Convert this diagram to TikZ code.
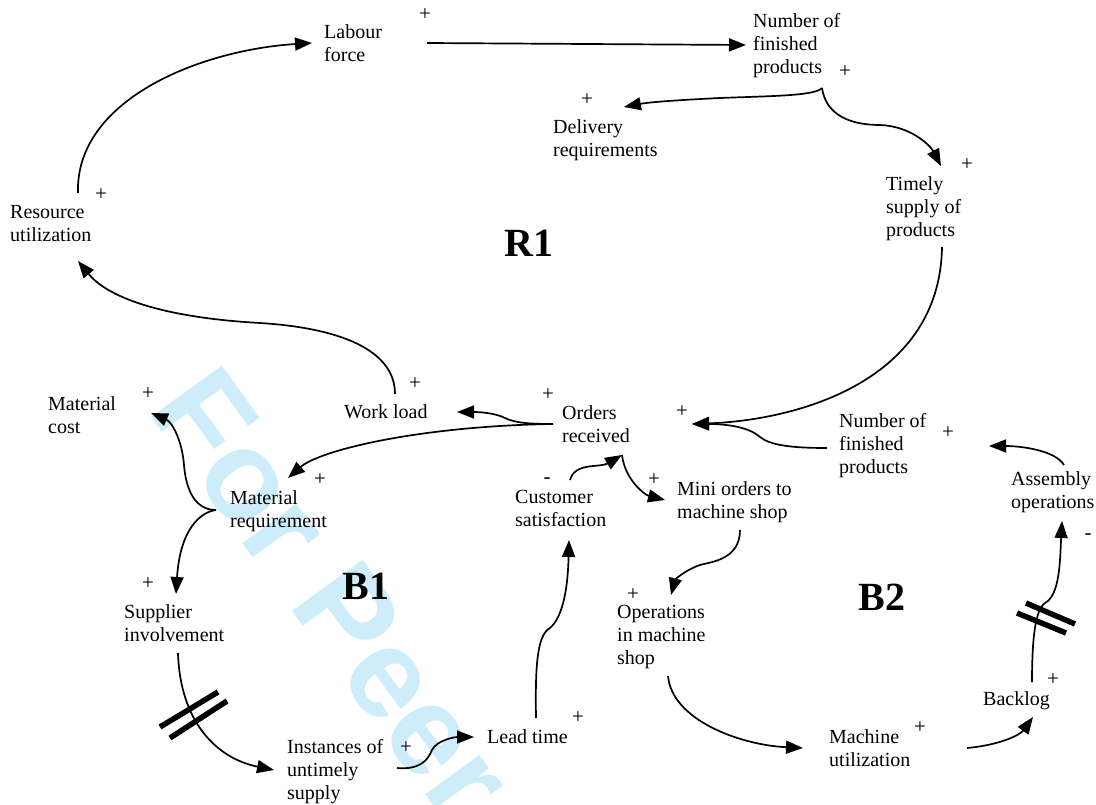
\documentclass[tikz,border=0pt]{standalone}
\usepackage{fontspec}
\setmainfont{Liberation Serif}
\newfontfamily\wmfont{Liberation Sans}
\usetikzlibrary{arrows.meta}
\definecolor{wmblue}{RGB}{206,237,251}
\tikzset{
  var/.style={anchor=north west,inner sep=0pt,align=left,font=\fontsize{20}{23}\selectfont},
  pol/.style={inner sep=0pt,font=\fontsize{21}{21}\selectfont},
  loopname/.style={inner sep=0pt,font=\fontsize{40}{40}\selectfont\bfseries},
  cl/.style={line width=1.7pt,-{Triangle[length=17pt,width=13pt]}},
  delaybar/.style={line width=5.5pt},
}
\begin{document}
\begin{tikzpicture}[x=1pt,y=-1pt]
\useasboundingbox (0,0) rectangle (1096,805);
\node[rotate=-54,text=wmblue,font=\fontsize{127}{127}\selectfont\wmfont\bfseries] (wm) at (333,594) {For Peer};
%
\node[loopname] (r1) at (529,243) {R1};
\node[loopname] (b1) at (366,586) {B1};
\node[loopname] (b2) at (882,597) {B2};
%
\node[var] (labour) at (324,24) {Labour\\force};
\node[var] (numtop) at (753,13) {Number of\\finished\\products};
\node[var] (delivery) at (553,119) {Delivery\\requirements};
\node[var] (timely) at (886,176) {Timely\\supply of\\products};
\node[var] (resource) at (10,205) {Resource\\utilization};
\node[var] (matcost) at (48,396) {Material\\cost};
\node[var] (workload) at (344,404) {Work load};
\node[var] (orders) at (562,405) {Orders\\received};
\node[var] (numbot) at (839,413) {Number of\\finished\\products};
\node[var] (matreq) at (230,490) {Material\\requirement};
\node[var] (customer) at (515,490) {Customer\\satisfaction};
\node[var] (mini) at (677,481) {Mini orders to\\machine shop};
\node[var] (assembly) at (1011,471) {Assembly\\operations};
\node[var] (supplier) at (124,604) {Supplier\\involvement};
\node[var] (operations) at (617,605) {Operations\\in machine\\shop};
\node[var] (backlog) at (983,691) {Backlog};
\node[var] (leadtime) at (487,729) {Lead time};
\node[var] (machine) at (829,729) {Machine\\utilization};
\node[var] (instances) at (287,739) {Instances of\\untimely\\supply};
%
\node[pol] (p-labour) at (425,15) {+};
\node[pol] (p-numtop) at (845,72) {+};
\node[pol] (p-delivery) at (587,100) {+};
\node[pol] (p-timely) at (967,165) {+};
\node[pol] (p-resource) at (101,195) {+};
\node[pol] (p-matcost) at (148,394) {+};
\node[pol] (p-workload) at (415,384) {+};
\node[pol] (p-orders) at (548,395) {+};
\node[pol] (p-ordersin) at (682,412) {+};
\node[pol] (p-numbot) at (948,433) {+};
\node[pol] (p-matreq) at (320,480) {+};
\node[pol] (p-customer) at (547,481) {-};
\node[pol] (p-mini) at (654,480) {+};
\node[pol] (p-assembly) at (1088,537) {-};
\node[pol] (p-supplier) at (148,584) {+};
\node[pol] (p-operations) at (633,595) {+};
\node[pol] (p-backlog) at (1053,680) {+};
\node[pol] (p-leadtime) at (578,718) {+};
\node[pol] (p-machine) at (920,728) {+};
\node[pol] (p-instances) at (406,748) {+};
%
\coordinate (labour-o) at (427,43);
\coordinate (labour-i) at (312,43);
\coordinate (numtop-i) at (746,45);
\coordinate (numtop-o) at (822,88);
\coordinate (delivery-i) at (624,107);
\coordinate (timely-i) at (941,166);
\coordinate (timely-o) at (942,247);
\coordinate (orders-i) at (692,424);
\coordinate (orders-o) at (553,424);
\coordinate (orders-b) at (622,455);
\coordinate (numbot-o) at (827,448);
\coordinate (numbot-i) at (989,446);
\coordinate (assembly-o) at (1064,465);
\coordinate (assembly-i) at (1062,521);
\coordinate (resource-o) at (78,193);
\coordinate (resource-i) at (78,261);
\coordinate (workload-o) at (395,394);
\coordinate (workload-i) at (457,412);
\coordinate (matreq-i) at (288,478);
\coordinate (matreq-o) at (216,510);
\coordinate (matcost-i) at (151,413);
\coordinate (supplier-i) at (176,594);
\coordinate (supplier-o) at (178,653);
\coordinate (instances-i) at (274,770);
\coordinate (instances-o) at (397,768);
\coordinate (leadtime-i) at (474,737);
\coordinate (leadtime-o) at (536,718);
\coordinate (customer-i) at (569,540);
\coordinate (customer-o) at (570,480);
\coordinate (mini-i) at (665,500);
\coordinate (mini-o) at (740,530);
\coordinate (operations-i) at (671,595);
\coordinate (operations-o) at (668,676);
\coordinate (machine-i) at (803,748);
\coordinate (machine-o) at (967,748);
\coordinate (backlog-i) at (1033,717);
\coordinate (backlog-o) at (1032,682);
%
\draw[cl] (labour-o)--(numtop-i);
\draw[cl] (numtop-o) .. controls (815,96) and (770,96) .. (720,98) .. controls (680,100) and (650,102) .. (delivery-i);
\draw[cl] (numtop-o) .. controls (826,115) and (850,125) .. (880,125) .. controls (910,126) and (930,145) .. (timely-i);
\draw[cl] (timely-o) .. controls (940,380) and (800,420) .. (orders-i);
\draw[cl] (numbot-o) .. controls (790,448) and (770,445) .. (760,437) .. controls (750,428) and (730,424) .. (orders-i);
\draw[cl] (assembly-o) .. controls (1055,450) and (1020,446) .. (numbot-i);
\draw[cl] (resource-o) .. controls (75,100) and (200,50) .. (labour-i);
\draw[cl] (workload-o) .. controls (395,350) and (340,328) .. (260,323) .. controls (170,318) and (110,300) .. (resource-i);
\draw[cl] (orders-o) .. controls (530,424) and (515,423) .. (505,418) .. controls (495,413) and (480,412) .. (workload-i);
\draw[cl] (orders-o) .. controls (420,426) and (320,450) .. (matreq-i);
\draw[cl] (matreq-o) .. controls (195,510) and (186,490) .. (184,465) .. controls (182,440) and (172,422) .. (matcost-i);
\draw[cl] (matreq-o) .. controls (200,512) and (180,530) .. (supplier-i);
\draw[cl] (supplier-o) .. controls (180,720) and (215,758) .. (instances-i);
\draw[delaybar] (160,727)--(218,692);
\draw[delaybar] (170,738)--(227,701);
\draw[cl] (instances-o) .. controls (420,770) and (428,760) .. (432,750) .. controls (437,740) and (455,737) .. (leadtime-i);
\draw[cl] (leadtime-o) .. controls (535,660) and (538,635) .. (550,628) .. controls (565,615) and (568,580) .. (customer-i);
\draw[cl] (customer-o) .. controls (575,462) and (600,468) .. (orders-b);
\draw[cl] (orders-b) .. controls (625,480) and (645,495) .. (mini-i);
\draw[cl] (mini-o) .. controls (740,560) and (710,562) .. (700,565) .. controls (685,570) and (675,580) .. (operations-i);
\draw[cl] (operations-o) .. controls (672,720) and (740,745) .. (machine-i);
\draw[cl] (machine-o) .. controls (1000,745) and (1020,735) .. (backlog-i);
\draw[cl] (backlog-o) .. controls (1032,640) and (1035,610) .. (1045,603) .. controls (1060,595) and (1060,560) .. (assembly-i);
\draw[delaybar] (1026,603)--(1075,624);
\draw[delaybar] (1017,613)--(1066,633);
\end{tikzpicture}
\end{document}
